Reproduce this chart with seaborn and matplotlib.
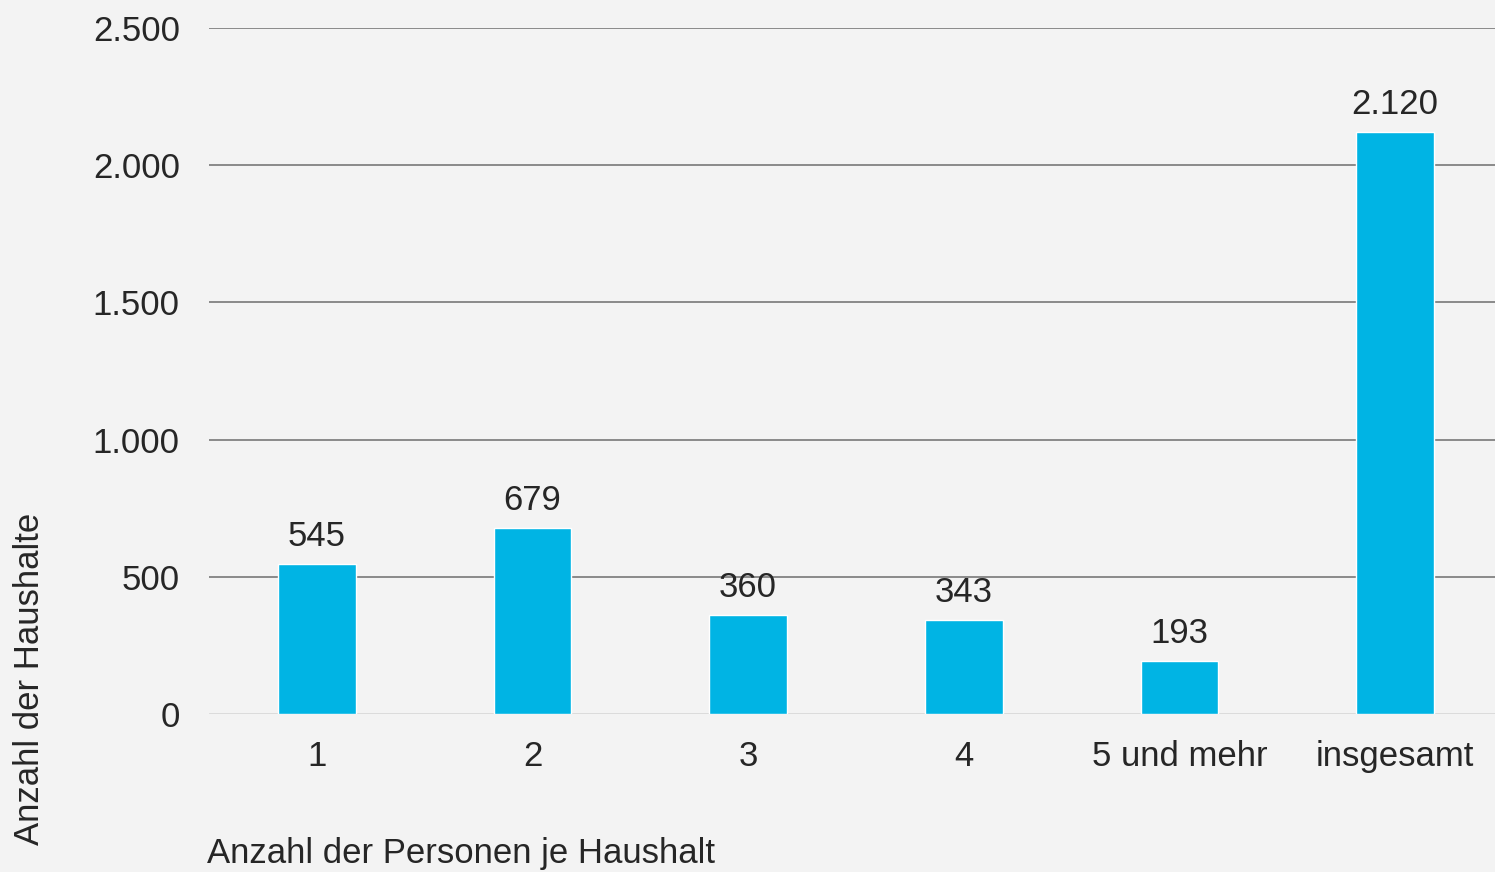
import matplotlib
matplotlib.use("Agg")
import matplotlib.pyplot as plt
import seaborn as sns
import pandas as pd

# Haushalte nach Anzahl der Personen
kategorien = ["1", "2", "3", "4", "5 und mehr", "insgesamt"]
haushalte = [545, 679, 360, 343, 193, 2120]
y_ticks = [0, 500, 1000, 1500, 2000, 2500]
y_labels = ["0", "500", "1.000", "1.500", "2.000", "2.500"]

df = pd.DataFrame({"kat": kategorien, "wert": haushalte})

sns.set_theme(style="white")
plt.rcParams["font.family"] = ["Liberation Sans", "DejaVu Sans"]
bg = "#f3f3f3"
txt = "#262626"
fs = 25

fig = plt.figure(figsize=(14.95, 8.72), dpi=100, facecolor=bg)
ax = fig.add_axes([209 / 1495, 1 - 714 / 872, 1294 / 1495, (714 - 28) / 872])
ax.set_facecolor(bg)

sns.barplot(data=df, x="kat", y="wert", color="#00b4e4", saturation=1,
            width=0.36, ax=ax)

ax.set_ylim(0, 2500)
ax.set_xlim(-0.5, 5.5)
ax.set_yticks(y_ticks)
ax.set_yticklabels(y_labels)
for y in y_ticks[1:]:
    ax.axhline(y, color="#8a8a8a", lw=1.4, zorder=0)
ax.axhline(0, color="#d9d9d9", lw=2, zorder=0)

for s in ax.spines.values():
    s.set_visible(False)
ax.tick_params(axis="y", length=0, pad=21, labelsize=fs, labelcolor=txt)
ax.tick_params(axis="x", length=0, pad=19, labelsize=fs, labelcolor=txt)
ax.set_xlabel("")
ax.set_ylabel("")

for i, v in enumerate(haushalte):
    ax.annotate(f"{v:,}".replace(",", "."), (i, v), xytext=(0, 8),
                textcoords="offset points", ha="center", va="bottom",
                fontsize=fs, color=txt)

fig.text(30 / 1495, 1 - 845 / 872, "Anzahl der Haushalte", rotation=90,
         ha="center", va="bottom", fontsize=fs, color=txt)
fig.text(207 / 1495, 1 - 853 / 872, "Anzahl der Personen je Haushalt",
         ha="left", va="center", fontsize=fs, color=txt)

fig.savefig("out.png", dpi=100, facecolor=bg)
